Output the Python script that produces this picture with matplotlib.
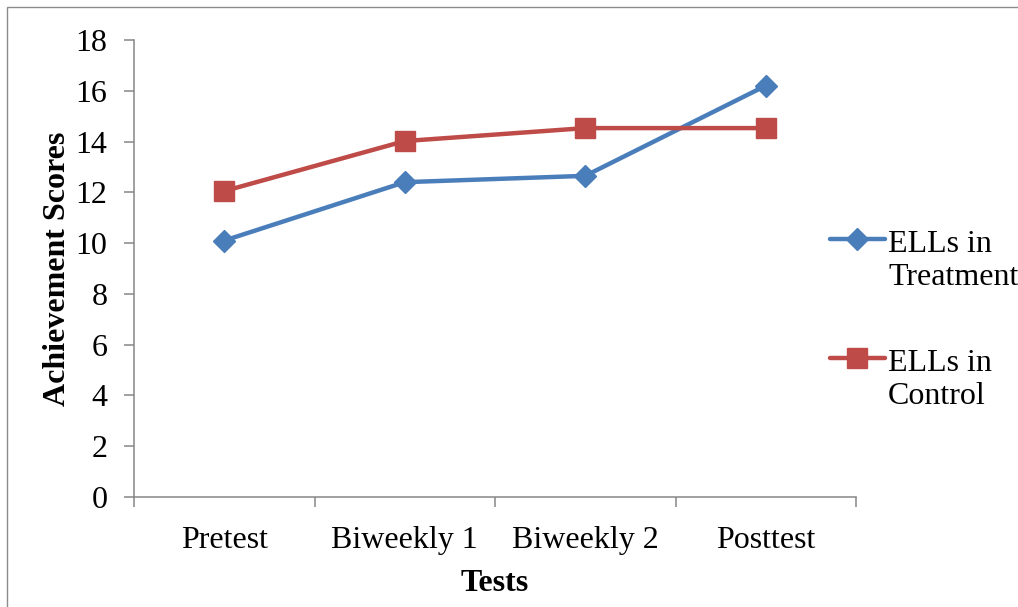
import matplotlib
matplotlib.use("Agg")
import matplotlib.pyplot as plt
from matplotlib.patches import Rectangle
from matplotlib.lines import Line2D
import numpy as np

# data
tests = ["Pretest", "Biweekly 1", "Biweekly 2", "Posttest"]
treatment = [10.1, 12.4, 12.65, 16.2]
control = [12.05, 14.02, 14.53, 14.53]
series_names = ["ELLs in\nTreatment", "ELLs in\nControl"]

blue = '#4A7EBB'
red = '#BE4B48'
grey = '#868686'

plt.rcParams['font.family'] = ['Liberation Serif', 'DejaVu Serif']

fig = plt.figure(figsize=(10.18, 6.07), dpi=100)
W, H = 1018, 607
ax = fig.add_axes([134 / W, 1 - 497 / H, (856 - 134) / W, (497 - 40) / H])

# thin grey frame around the whole chart (cut off at right/bottom)
fig.patches.append(Rectangle((7 / W, -0.05), 1.1, 1 - 7 / H + 0.05,
                             transform=fig.transFigure, fill=False,
                             edgecolor='#8c8c8c', linewidth=1.0))

x = np.arange(len(tests))
styles = [dict(color=blue, marker='D', markersize=11),
          dict(color=red, marker='s', markersize=14)]
for vals, st in zip([treatment, control], styles):
    ax.plot(x, vals, linewidth=3.2, **st)

ax.set_xlim(-0.5, len(tests) - 0.5)
ax.set_ylim(0, 18)
ax.set_yticks(np.arange(0, 19, 2))

# ticks between categories, labels under categories
ax.set_xticks(np.arange(-0.5, len(tests), 1.0))
ax.set_xticklabels([])
ax.set_xticks(x, minor=True)
ax.set_xticklabels(tests, minor=True, fontsize=23)
ax.tick_params(axis='x', which='minor', length=0, pad=21)
ax.tick_params(axis='x', which='major', length=7, width=1.1, color=grey)
ax.tick_params(axis='y', length=7, width=1.1, color=grey, labelsize=23, pad=12)

for side in ['top', 'right']:
    ax.spines[side].set_visible(False)
for side in ['left', 'bottom']:
    ax.spines[side].set_color(grey)
    ax.spines[side].set_linewidth(1.1)

ax.set_ylabel('Achievement Scores', fontsize=23, fontweight='bold', labelpad=3)
ax.set_xlabel('Tests', fontsize=23, fontweight='bold', labelpad=10)

# legend drawn by hand: handle level with the first text line
legend_y = [239, 358]
for name, st, yy in zip(series_names, styles, legend_y):
    fy = 1 - yy / H
    fig.add_artist(Line2D([830 / W, 885 / W], [fy, fy], transform=fig.transFigure,
                          linewidth=3.2, solid_capstyle='round',
                          **{k: v for k, v in st.items() if k != 'marker'}))
    fig.add_artist(Line2D([857 / W], [fy], transform=fig.transFigure,
                          linestyle='none', **st))
    fig.text(888 / W, 1 - (yy - 9) / H, name, fontsize=23, va='top', ha='left',
             linespacing=1.2)

fig.savefig('out.png', dpi=100)
